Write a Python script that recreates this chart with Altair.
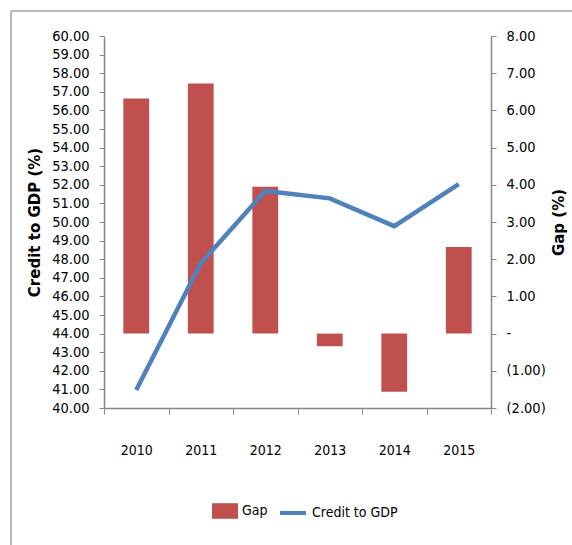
import altair as alt
import pandas as pd

years = ["2010", "2011", "2012", "2013", "2014", "2015"]
gap = [6.32, 6.72, 3.95, -0.34, -1.56, 2.33]
credit = [40.97, 47.78, 51.67, 51.27, 49.78, 52.04]
left_ticks = list(range(40, 61))
right_ticks = list(range(-2, 9))

gap_df = pd.DataFrame({"year": years, "value": gap, "series": "Gap"})
credit_df = pd.DataFrame({"year": years, "value": credit, "series": "Credit to GDP"})

FONT = "DejaVu Sans Condensed, Liberation Sans, sans-serif"
TITLE_FONT = "DejaVu Sans"
GREY = "#868686"
RED = "#C0504D"
BLUE = "#4F81BD"

x_axis = alt.Axis(title=None, labelAngle=0, tickBand="extent", tickSize=6,
                  labelPadding=29, labelFontSize=14, domainColor=GREY, tickColor=GREY)
x_enc = alt.X("year:N", scale=alt.Scale(paddingInner=0, paddingOuter=0), axis=x_axis)

bars = alt.Chart(gap_df).mark_bar(width=alt.RelativeBandSize(0.4)).encode(
    x=x_enc,
    y=alt.Y("value:Q", scale=alt.Scale(domain=[-2, 8], nice=False, zero=False),
            axis=alt.Axis(orient="right", values=right_ticks, title="Gap (%)",
                          titleAngle=270, titlePadding=21,
                          labelExpr="datum.value < 0 ? '(' + format(-datum.value, '.2f') + ')' : (datum.value == 0 ? '-' : format(datum.value, '.2f'))",
                          labelAlign="left", labelPadding=10, tickSize=5,
                          labelFontSize=14.5)),
    fill=alt.Fill("series:N", scale=alt.Scale(domain=["Gap"], range=[RED]),
                  legend=alt.Legend(title=None, orient="none", legendX=108, legendY=462,
                                    symbolType="M-1,-0.6H1V0.6H-1Z", symbolSize=676,
                                    symbolStrokeWidth=0, labelOffset=4, labelFont=FONT,
                                    labelFontSize=14, padding=0)),
)

line = alt.Chart(credit_df).mark_line(strokeWidth=4.5).encode(
    x=x_enc,
    y=alt.Y("value:Q", scale=alt.Scale(domain=[40, 60], nice=False, zero=False),
            axis=alt.Axis(orient="left", values=left_ticks, format=".2f",
                          title="Credit to GDP (%)", titlePadding=9,
                          labelPadding=10, tickSize=5, labelFontSize=14.5)),
    stroke=alt.Stroke("series:N", scale=alt.Scale(domain=["Credit to GDP"], range=[BLUE]),
                      legend=alt.Legend(title=None, orient="none", legendX=174, legendY=462,
                                        symbolType="M-1,0H1", symbolSize=676,
                                        symbolStrokeWidth=4, labelOffset=4, labelFont=FONT,
                                        labelFontSize=14, padding=0)),
)

frame_df = pd.DataFrame({"k": [0]})
frame_left = alt.Chart(frame_df).mark_rule(color="#a0a0a0", strokeWidth=1.5).encode(
    x=alt.value(-93), y=alt.value(-25), y2=alt.value(509))
frame_top = alt.Chart(frame_df).mark_rule(color="#a0a0a0", strokeWidth=1.5).encode(
    x=alt.value(-93), x2=alt.value(468), y=alt.value(-25))

chart = alt.layer(bars, line, frame_left, frame_top).resolve_scale(
    y="independent", fill="independent", stroke="independent"
).properties(
    width=387, height=372,
    autosize=alt.AutoSizeParams(type="none"),
    padding={"left": 104, "top": 36, "right": 81, "bottom": 137},
).configure_view(stroke=None).configure_axis(
    grid=False, domainColor=GREY, tickColor=GREY, domainWidth=1.5,
    labelFont=FONT, labelColor="#000", titleFont=TITLE_FONT, titleFontWeight="bold",
    titleFontSize=15, titleColor="#000",
)

chart.save("out.html", embed_options={"renderer": "svg", "actions": False})
